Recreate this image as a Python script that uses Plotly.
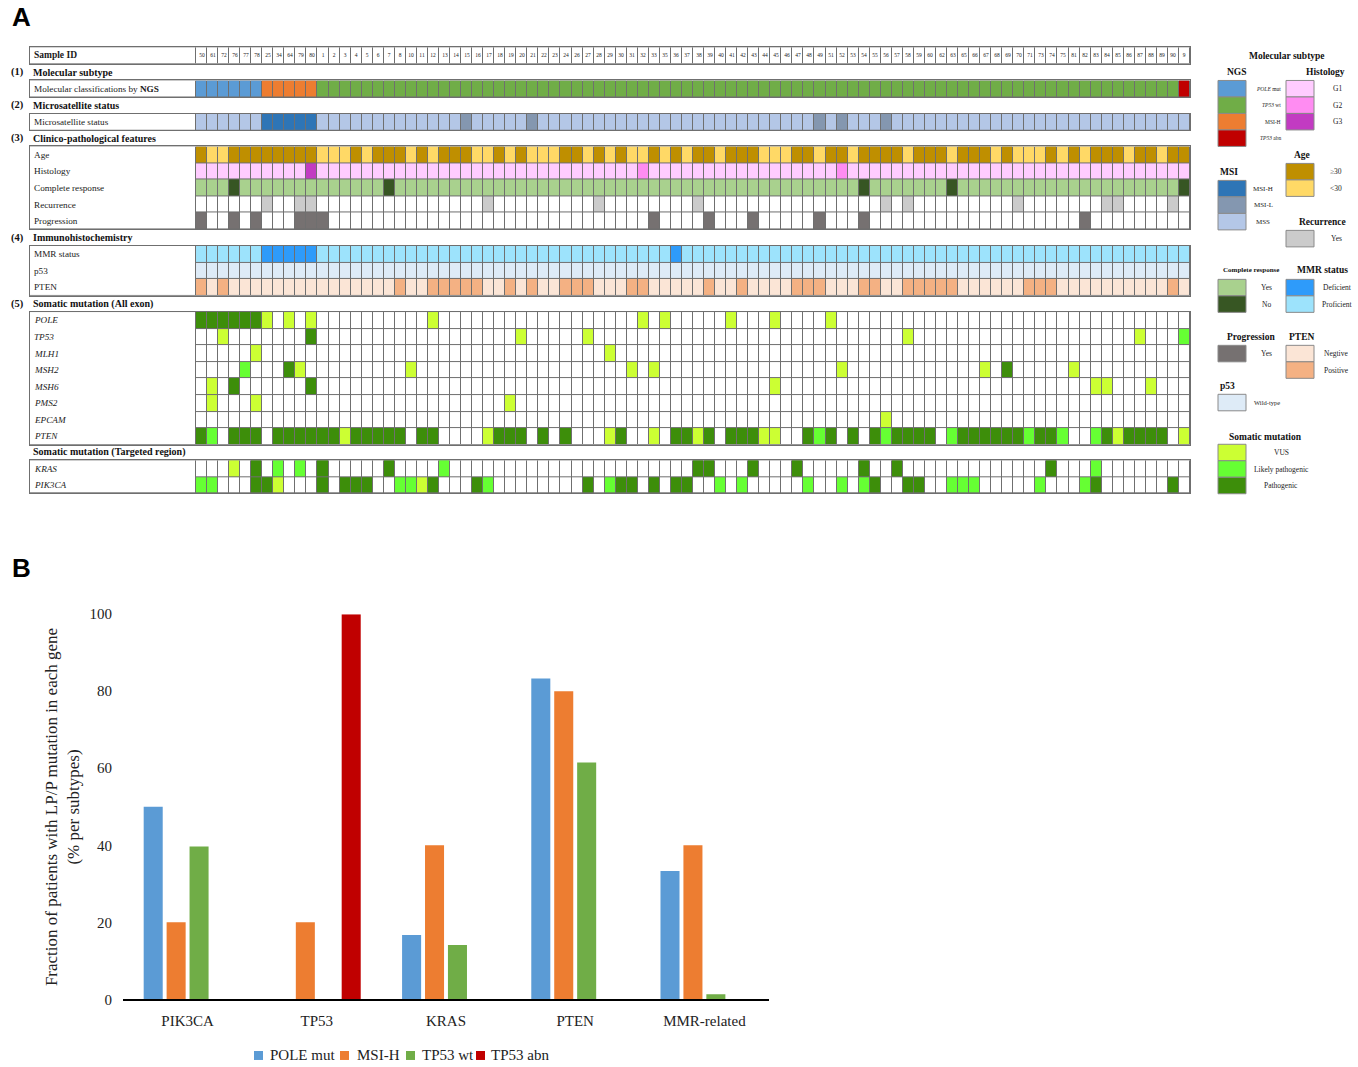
import plotly.graph_objects as go

W, H = 1358, 1067
SERIF = "Liberation Serif, Times New Roman, serif"
SANS = "Liberation Sans, Arial, sans-serif"

# ---------------- panel A data (sample order as in the figure) ----------------
sample_ids = [50, 61, 72, 76, 77, 78, 25, 34, 64, 79, 80, 1, 2, 3, 4, 5, 6, 7, 8, 10,
              11, 12, 13, 14, 15, 16, 17, 18, 19, 20, 21, 22, 23, 24, 26, 27, 28, 29, 30, 31,
              32, 33, 35, 36, 37, 38, 39, 40, 41, 42, 43, 44, 45, 46, 47, 48, 49, 51, 52, 53,
              54, 55, 56, 57, 58, 59, 60, 62, 63, 65, 66, 67, 68, 69, 70, 71, 73, 74, 75, 81,
              82, 83, 84, 85, 86, 87, 88, 89, 90, 9]

ngs_pole = [50, 61, 72, 76, 77, 78]
ngs_msih = [25, 34, 64, 79, 80]
ngs_tp53abn = [9]

msi_h = [25, 34, 64, 79, 80]
msi_l = [15, 21, 49, 52, 56]

age_under30 = [61, 72, 1, 2, 3, 5, 10, 12, 16, 17, 19, 21, 22, 23, 27, 29, 31, 32, 35, 37,
               40, 44, 45, 46, 49, 53, 58, 63, 68, 70, 71, 73, 75, 82, 86, 89]
histology_g2 = [32, 52]
histology_g3 = [80]
cr_no = [76, 7, 54, 63, 9]
recurrence_yes = [25, 79, 80, 17, 28, 38, 56, 58, 70, 84, 85, 90]
progression_yes = [50, 76, 78, 79, 80, 1, 33, 39, 43, 49, 54, 82]

mmr_deficient = [25, 34, 64, 79, 80, 36]
pten_ihc_positive = [50, 72, 8, 12, 13, 14, 15, 16, 19, 21, 24, 26, 27, 31, 32, 39, 42, 47,
                     48, 49, 54, 55, 58, 59, 60, 62, 63, 71, 73, 74, 90]

# somatic mutations: class -> samples (V = VUS, LP = likely pathogenic, P = pathogenic)
mut_pole = {"P": [50, 61, 72, 76, 77, 78], "V": [25, 64, 80, 12, 32, 35, 41, 45, 51]}
mut_tp53 = {"P": [80], "LP": [9], "V": [72, 20, 27, 58, 87]}
mut_mlh1 = {"V": [78, 29]}
mut_msh2 = {"P": [64, 69], "LP": [77], "V": [79, 10, 31, 33, 52, 67, 81]}
mut_msh6 = {"P": [76, 80], "V": [61, 45, 83, 84, 88]}
mut_pms2 = {"V": [61, 78, 19]}
mut_epcam = {"V": [56]}
mut_pten = {"P": [50, 76, 77, 78, 34, 64, 79, 80, 1, 2, 4, 5, 6, 7, 8, 11, 12, 18, 19, 20,
                  22, 24, 30, 36, 37, 39, 41, 42, 43, 48, 51, 53, 55, 57, 58, 59, 60, 65, 66,
                  67, 68, 69, 70, 73, 74, 84, 86, 87, 88, 89],
            "LP": [61, 49, 56, 63, 71, 75, 83],
            "V": [3, 17, 29, 33, 38, 44, 45, 85, 9]}
mut_kras = {"P": [78, 1, 7, 38, 39, 43, 47, 54, 57, 74], "LP": [34, 79, 13, 83], "V": [76]}
mut_pik3ca = {"P": [78, 25, 1, 3, 4, 5, 12, 16, 27, 30, 31, 33, 36, 37, 55, 58, 59, 83, 90],
              "LP": [50, 61, 8, 10, 17, 29, 40, 42, 48, 52, 54, 63, 65, 66, 73, 82],
              "V": [34, 11]}

# ---------------- panel B data ----------------
genes = ["PIK3CA", "TP53", "KRAS", "PTEN", "MMR-related"]
subtypes = ["POLE mut", "MSI-H", "TP53 wt", "TP53 abn"]
frac_pole = [50, 0, 16.7, 83.3, 33.3]
frac_msih = [20, 20, 40, 80, 40]
frac_tp53wt = [39.7, 0, 14.1, 61.5, 1.3]
frac_tp53abn = [0, 100, 0, 0, 0]

# ---------------- colours ----------------
colors = {
    "white": "#FFFFFF",
    "POLE mut": "#5B9BD5", "TP53 wt": "#70AD47", "NGS MSI-H": "#ED7D31", "TP53 abn": "#C00000",
    "MSI-H": "#2E75B6", "MSI-L": "#8497B0", "MSS": "#B4C7E7",
    "Age>=30": "#BF8F00", "Age<30": "#FFD966",
    "G1": "#FFCCFF", "G2": "#FF8CF2", "G3": "#C23BC2",
    "CR yes": "#A9D18E", "CR no": "#375623",
    "Recurrence": "#CBCBCB", "Progression": "#767171",
    "Deficient": "#2E9BFA", "Proficient": "#9DE3FC",
    "p53 wt": "#DEEBF7",
    "PTEN neg": "#FBE5D6", "PTEN pos": "#F4B183",
    "V": "#CCFF33", "LP": "#66FF33", "P": "#3D8E0A",
}
bar_colors = ["#5B9BD5", "#ED7D31", "#70AD47", "#C00000"]
GRID = "#6f6f6f"

keys = list(colors)
code = {k: i for i, k in enumerate(keys)}
n_c = len(keys)
colorscale = []
for i, k in enumerate(keys):
    colorscale.append([i / n_c, colors[k]])
    colorscale.append([(i + 1) / n_c, colors[k]])

# the captured page comes out slightly squeezed vertically; place things by target screen px
SQ, OFF = 0.9855, 7.5


def py(y):
    return 1 - ((y - OFF) / SQ) / H


def make_row(default, *pairs):
    row = [code[default]] * len(sample_ids)
    for ids, key in pairs:
        for s in ids:
            row[sample_ids.index(s)] = code[key]
    return row


def mut_row(muts):
    return make_row("white", *[(ids, k) for k, ids in muts.items()])


blocks = [
    dict(top=46.7, head=None, labels=["<b>Sample ID</b>"], rows=[make_row("white")]),
    dict(top=80, head=("(1)", "Molecular subtype"),
         labels=["Molecular classifications by <b>NGS</b>"],
         rows=[make_row("TP53 wt", (ngs_pole, "POLE mut"), (ngs_msih, "NGS MSI-H"),
                        (ngs_tp53abn, "TP53 abn"))]),
    dict(top=113.3, head=("(2)", "Microsatellite status"), labels=["Microsatellite status"],
         rows=[make_row("MSS", (msi_h, "MSI-H"), (msi_l, "MSI-L"))]),
    dict(top=146, head=("(3)", "Clinico-pathological features"),
         labels=["Age", "Histology", "Complete response", "Recurrence", "Progression"],
         rows=[make_row("Age>=30", (age_under30, "Age<30")),
               make_row("G1", (histology_g2, "G2"), (histology_g3, "G3")),
               make_row("CR yes", (cr_no, "CR no")),
               make_row("white", (recurrence_yes, "Recurrence")),
               make_row("white", (progression_yes, "Progression"))]),
    dict(top=245.5, head=("(4)", "Immunohistochemistry"),
         labels=["MMR status", "p53", "PTEN"],
         rows=[make_row("Proficient", (mmr_deficient, "Deficient")),
               make_row("p53 wt"),
               make_row("PTEN neg", (pten_ihc_positive, "PTEN pos"))]),
    dict(top=311.7, head=("(5)", "Somatic mutation (All exon)"),
         labels=["<i>POLE</i>", "<i>TP53</i>", "<i>MLH1</i>", "<i>MSH2</i>", "<i>MSH6</i>",
                 "<i>PMS2</i>", "<i>EPCAM</i>", "<i>PTEN</i>"],
         rows=[mut_row(m) for m in [mut_pole, mut_tp53, mut_mlh1, mut_msh2, mut_msh6,
                                    mut_pms2, mut_epcam, mut_pten]]),
    dict(top=460, head=("", "Somatic mutation (Targeted region)"),
         labels=["<i>KRAS</i>", "<i>PIK3CA</i>"],
         rows=[mut_row(mut_kras), mut_row(mut_pik3ca)]),
]

ROW_H = 16.6
GRID_L, GRID_X0, GRID_R = 30, 196, 1190   # label box left, first cell, last cell edge (px)
col_w = (GRID_R - GRID_X0) / len(sample_ids)
lab_left = -0.5 - (GRID_X0 - GRID_L) / col_w

fig = go.Figure()
layout = {}
annotations = []
shapes = []

for b, blk in enumerate(blocks):
    k = b + 2
    n = len(blk["rows"])
    top, bottom = blk["top"], blk["top"] + n * ROW_H
    xa, ya = f"x{k}", f"y{k}"
    ax_common = dict(showgrid=False, zeroline=False, showticklabels=False, ticks="",
                     showline=True, mirror=True, linecolor=GRID, linewidth=1, fixedrange=True)
    layout[f"xaxis{k}"] = dict(domain=[GRID_L / W, GRID_R / W], range=[lab_left, len(sample_ids) - 0.5],
                               anchor=ya, **ax_common)
    layout[f"yaxis{k}"] = dict(domain=[py(bottom), py(top)], range=[n - 0.5, -0.5],
                               anchor=xa, **ax_common)
    shapes.append(dict(type="rect", xref=f"{xa} domain", yref=f"{ya} domain", x0=0, x1=1, y0=0, y1=1,
                       fillcolor=GRID, line=dict(width=0), layer="below"))
    hm = dict(z=blk["rows"], x=list(range(len(sample_ids))), y=list(range(n)),
              colorscale=colorscale, zmin=-0.5, zmax=n_c - 0.5, showscale=False,
              xgap=1, ygap=1, hoverinfo="skip", xaxis=xa, yaxis=ya)
    if b == 0:
        hm.update(text=[[str(s) for s in sample_ids]], texttemplate="%{text}",
                  textfont=dict(size=5.5, family=SERIF, color="#222222"))
    fig.add_trace(go.Heatmap(**hm))
    # white label column spanning the whole block
    fig.add_trace(go.Heatmap(z=[[code["white"]]], x=[lab_left, -0.5], y=[-0.5, n - 0.5],
                             colorscale=colorscale, zmin=-0.5, zmax=n_c - 0.5, showscale=False,
                             xgap=1, ygap=1, hoverinfo="skip", xaxis=xa, yaxis=ya))
    for i, lab in enumerate(blk["labels"]):
        annotations.append(dict(xref=xa, yref=ya, x=lab_left + 0.15, y=i, text=lab, showarrow=False,
                                xanchor="left", yanchor="middle",
                                font=dict(family=SERIF, size=9.2 if b else 9.5, color="#1a1a1a")))
    if blk["head"]:
        num, title = blk["head"]
        hy = py(top - 8.3)
        if num:
            annotations.append(dict(xref="paper", yref="paper", x=9 / W, y=hy, text=f"<b>{num}</b>",
                                    showarrow=False, xanchor="left", yanchor="middle",
                                    font=dict(family=SERIF, size=10.5, color="#111111")))
        annotations.append(dict(xref="paper", yref="paper", x=31 / W, y=hy, text=f"<b>{title}</b>",
                                showarrow=False, xanchor="left", yanchor="middle",
                                font=dict(family=SERIF, size=10, color="#111111")))

# ---------------- panel A legend ----------------
SW_W, SW_H = 28, 16.5
legend_groups = [
    # title, title x, title y, title size, swatch left, first top, label x, label anchor, label size, entries
    ("NGS", 1237, 72, 9.5, 1218, 80, 1283, "right", 5.5,
     [("POLE mut", "<i>POLE</i> mut"), ("TP53 wt", "<i>TP53</i> wt"),
      ("NGS MSI-H", "MSI-H"), ("TP53 abn", "<i>TP53</i> abn")]),
    ("Histology", 1325, 72, 9.5, 1286, 80, 1337, "center", 7.5, [("G1", "G1"), ("G2", "G2"), ("G3", "G3")]),
    ("Age", 1302, 155, 9.5, 1286, 163, 1336, "center", 7.5, [("Age>=30", "≥30"), ("Age<30", "<30")]),
    ("MSI", 1229, 172, 9.5, 1218, 180, 1263, "center", 7,
     [("MSI-H", "MSI-H"), ("MSI-L", "MSI-L"), ("MSS", "MSS")]),
    ("Recurrence", 1322, 222, 9.5, 1286, 230, 1336, "center", 7.5, [("Recurrence", "Yes")]),
    ("Complete response", 1251, 270, 7, 1218, 279, 1266, "center", 7.5,
     [("CR yes", "Yes"), ("CR no", "No")]),
    ("MMR status", 1322, 270, 9.5, 1286, 279, 1337, "center", 7.5,
     [("Deficient", "Deficient"), ("Proficient", "Proficient")]),
    ("Progression", 1251, 337, 9.5, 1218, 345, 1266, "center", 7.5, [("Progression", "Yes")]),
    ("PTEN", 1301, 337, 9.5, 1286, 345, 1336, "center", 7.5,
     [("PTEN neg", "Negtive"), ("PTEN pos", "Positive")]),
    ("p53", 1227, 386, 9.5, 1218, 394, 1267, "center", 6.5, [("p53 wt", "Wild-type")]),
    ("Somatic mutation", 1265, 437, 9.5, 1218, 444, 1281, "center", 7.5,
     [("V", "VUS"), ("LP", "Likely pathogenic"), ("P", "Pathogenic")]),
]
annotations.append(dict(xref="paper", yref="paper", x=1287 / W, y=py(56), text="<b>Molecular subtype</b>",
                        showarrow=False, xanchor="center", yanchor="middle",
                        font=dict(family=SERIF, size=9.5, color="#111111")))
for title, tx, ty, tsize, sx, sy, lx, lanchor, lsize, entries in legend_groups:
    annotations.append(dict(xref="paper", yref="paper", x=tx / W, y=py(ty), text=f"<b>{title}</b>",
                            showarrow=False, xanchor="center", yanchor="middle",
                            font=dict(family=SERIF, size=tsize, color="#111111")))
    for j, (ck, lab) in enumerate(entries):
        y0 = sy + j * SW_H
        shapes.append(dict(type="rect", xref="paper", yref="paper", x0=sx / W, x1=(sx + SW_W) / W,
                           y0=py(y0 + SW_H), y1=py(y0), fillcolor=colors[ck],
                           line=dict(color="#8a8a8a", width=1)))
        annotations.append(dict(xref="paper", yref="paper", x=lx / W, y=py(y0 + SW_H / 2), text=lab,
                                showarrow=False, xanchor=lanchor, yanchor="middle",
                                font=dict(family=SERIF, size=lsize, color="#222222")))

# ---------------- panel B ----------------
for name, vals, col in zip(subtypes, [frac_pole, frac_msih, frac_tp53wt, frac_tp53abn], bar_colors):
    fig.add_trace(go.Bar(x=genes, y=vals, name=name, marker=dict(color=col, line=dict(width=0)),
                         xaxis="x", yaxis="y", hoverinfo="x+y+name", showlegend=False))

layout["xaxis"] = dict(domain=[123 / W, 769 / W], anchor="y", showline=True, linecolor="#000000",
                       linewidth=2, ticks="", showgrid=False, zeroline=False,
                       tickfont=dict(family=SERIF, size=15, color="#222222"), ticklabelstandoff=7)
layout["yaxis"] = dict(domain=[py(999.3), py(614)], anchor="x", range=[0, 100],
                       tickvals=[0, 20, 40, 60, 80, 100],
                       showline=False, showgrid=False, zeroline=False, ticks="",
                       tickfont=dict(family=SERIF, size=15, color="#222222"), ticklabelstandoff=10)

annotations.append(dict(xref="paper", yref="paper", x=62 / W, y=py(807), textangle=-90,
                        text="Fraction of patients with LP/P mutation in each gene<br>(% per subtypes)",
                        showarrow=False, xanchor="center", yanchor="middle",
                        font=dict(family=SERIF, size=17, color="#222222")))

# bar legend (swatch left edge, text left edge) laid out like the original
bar_legend_x = [(254, 268), (340, 355), (406, 420), (476, 489)]
LEG_Y = 1055.5
for name, col, (sx, tx) in zip(subtypes, bar_colors, bar_legend_x):
    shapes.append(dict(type="rect", xref="paper", yref="paper", x0=sx / W, x1=(sx + 9) / W,
                       y0=py(LEG_Y + 4.5), y1=py(LEG_Y - 4.5), fillcolor=col, line=dict(width=0)))
    annotations.append(dict(xref="paper", yref="paper", x=tx / W, y=py(LEG_Y), text=name,
                            showarrow=False, xanchor="left", yanchor="middle",
                            font=dict(family=SERIF, size=15, color="#222222")))

# panel letters
for letter, ly in [("A", 17), ("B", 568)]:
    annotations.append(dict(xref="paper", yref="paper", x=10 / W, y=py(ly), text=f"<b>{letter}</b>",
                            showarrow=False, xanchor="left", yanchor="middle",
                            font=dict(family=SANS, size=26, color="#000000")))

fig.update_layout(
    width=W, height=H, margin=dict(l=0, r=0, t=0, b=0),
    paper_bgcolor="white", plot_bgcolor="white",
    barmode="group", bargap=0.29, bargroupgap=0.17,
    showlegend=False,
    annotations=annotations, shapes=shapes,
    **layout,
)

fig.write_html("out.html", config={"displayModeBar": False},
               post_script="document.body.style.margin = '0px'; document.body.style.overflow = 'hidden';")
